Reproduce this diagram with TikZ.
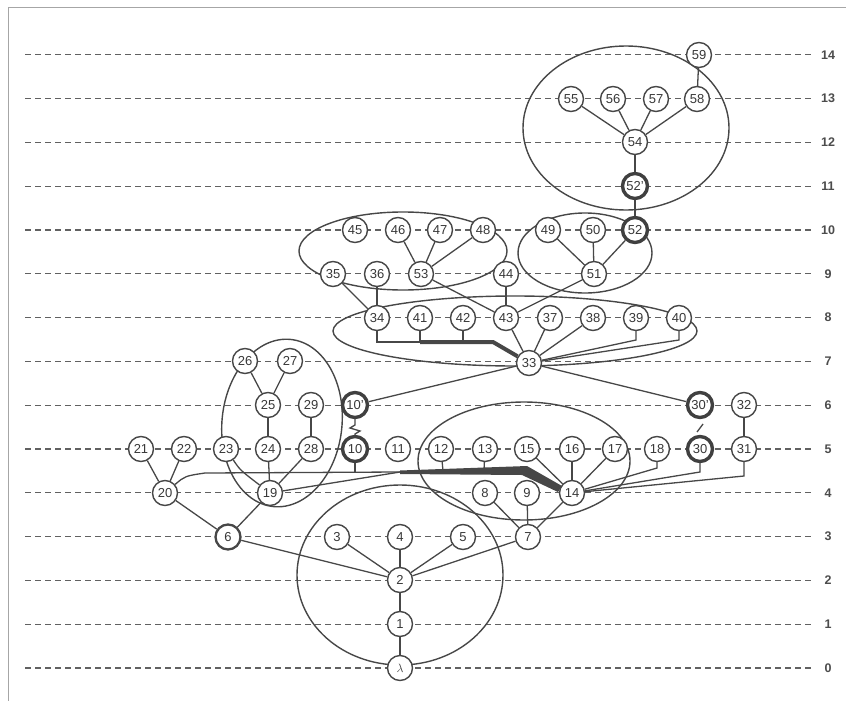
\documentclass[tikz,border=0pt]{standalone}
\usepackage{fontspec}
\setmainfont{Liberation Sans}
\begin{document}
\begin{tikzpicture}[x=1pt,y=-1pt,
  nd/.style={circle,draw=black!72,fill=white,line width=1.4pt,minimum size=25pt,inner sep=0pt,
     text=black!78,font=\fontsize{13}{14}\selectfont},
  dk/.style={nd,line width=3.4pt,draw=black!75},
  md/.style={nd,line width=2.3pt},
  edge/.style={draw=black!72,line width=1.3pt},
  grp/.style={draw=black!72,line width=1.4pt},
  lvl/.style={draw=black!62,line width=1.3pt,dash pattern=on 6pt off 4pt},
  lab/.style={text=black!70,font=\bfseries\fontsize{12.5}{13}\selectfont}]
\useasboundingbox (0,0) rectangle (846,701);
\draw[black!35,line width=1pt] (846,8) -- (8,8) -- (8,701);
% level lines
\foreach \k in {0,...,14}{
  \draw[lvl] (25,{668-43.8*\k}) -- (812,{668-43.8*\k});
  \node[lab] (L\k) at (828,{668-43.8*\k}) {\k};
}
% groups
\draw[grp] (626,128) ellipse [x radius=103, y radius=82];
\draw[grp] (403,251) ellipse [x radius=104, y radius=39];
\draw[grp] (585,253) ellipse [x radius=67, y radius=40];
\draw[grp] (515,331) ellipse [x radius=182, y radius=35];
\draw[grp,rotate around={-6:(282,423)}] (282,423) ellipse [x radius=60, y radius=84];
\draw[grp] (524,461) ellipse [x radius=106, y radius=59];
\draw[grp] (400,575) ellipse [x radius=103, y radius=90];
% nodes
\node[nd] (n59) at (699,55) {59};
\node[nd] (n55) at (571,99) {55};
\node[nd] (n56) at (613,99) {56};
\node[nd] (n57) at (656,99) {57};
\node[nd] (n58) at (697,99) {58};
\node[nd] (n54) at (635,142) {54};
\node[dk] (n52a) at (635,186) {52'};
\node[nd] (n45) at (355,230) {45};
\node[nd] (n46) at (398,230) {46};
\node[nd] (n47) at (440,230) {47};
\node[nd] (n48) at (483,230) {48};
\node[nd] (n49) at (548,230) {49};
\node[nd] (n50) at (593,230) {50};
\node[dk] (n52) at (635,230) {52};
\node[nd] (n35) at (333,274) {35};
\node[nd] (n36) at (377,274) {36};
\node[nd] (n53) at (421,274) {53};
\node[nd] (n44) at (506,274) {44};
\node[nd] (n51) at (594,274) {51};
\node[nd] (n34) at (377,318) {34};
\node[nd] (n41) at (420,318) {41};
\node[nd] (n42) at (463,318) {42};
\node[nd] (n43) at (506,318) {43};
\node[nd] (n37) at (550,318) {37};
\node[nd] (n38) at (593,318) {38};
\node[nd] (n39) at (636,318) {39};
\node[nd] (n40) at (679,318) {40};
\node[nd] (n26) at (245,361) {26};
\node[nd] (n27) at (290,361) {27};
\node[nd] (n33) at (529,363) {33};
\node[nd] (n25) at (268,405) {25};
\node[nd] (n29) at (311,405) {29};
\node[dk] (n10p) at (355,405) {10'};
\node[dk] (n30p) at (700,405) {30'};
\node[nd] (n32) at (744,405) {32};
\node[nd] (n21) at (141,449) {21};
\node[nd] (n22) at (184,449) {22};
\node[nd] (n23) at (226,449) {23};
\node[nd] (n24) at (268,449) {24};
\node[nd] (n28) at (311,449) {28};
\node[dk] (n10) at (355,449) {10};
\node[nd] (n11) at (398,449) {11};
\node[nd] (n12) at (441,449) {12};
\node[nd] (n13) at (485,449) {13};
\node[nd] (n15) at (527,449) {15};
\node[nd] (n16) at (572,449) {16};
\node[nd] (n17) at (615,449) {17};
\node[nd] (n18) at (657,449) {18};
\node[dk] (n30) at (700,449) {30};
\node[nd] (n31) at (744,449) {31};
\node[nd] (n20) at (165,493) {20};
\node[nd] (n19) at (270,493) {19};
\node[nd] (n8) at (485,493) {8};
\node[nd] (n9) at (527,493) {9};
\node[nd] (n14) at (572,493) {14};
\node[md] (n6) at (228,537) {6};
\node[nd] (n3) at (337,537) {3};
\node[nd] (n4) at (400,537) {4};
\node[nd] (n5) at (463,537) {5};
\node[nd] (n7) at (528,537) {7};
\node[nd] (n2) at (400,580) {2};
\node[nd] (n1) at (400,624) {1};
\node[nd] (nA) at (400,668) {$\lambda$};
% bundle helper coordinates
\coordinate (b34) at (377,342);
\coordinate (b41) at (420,342);
\coordinate (b42) at (463,342);
\coordinate (b39) at (636,340);
\coordinate (b40) at (679,340);
\coordinate (b20) at (205,473);
\coordinate (b10) at (355,473);
\coordinate (b12) at (443,471);
\coordinate (b13) at (484,470);
\coordinate (t1) at (400,472);
\coordinate (b18) at (657,468);
\coordinate (b30) at (700,472);
\coordinate (b31) at (744,476);
% edges
\draw[edge] (n59) -- (n58);
\foreach \a in {n55,n56,n57,n58} \draw[edge] (\a) -- (n54);
\draw[edge] (n54) -- (n52a);
\draw[edge] (n52a) -- (n52);
\foreach \a in {n49,n50,n52} \draw[edge] (\a) -- (n51);
\foreach \a in {n46,n47,n48} \draw[edge] (\a) -- (n53);
\draw[edge] (n35) -- (n34);
\draw[edge] (n36) -- (n34);
\draw[edge] (n53) -- (n43);
\draw[edge] (n44) -- (n43);
\draw[edge] (n51) -- (n43);
\draw[edge] (n34) -- (b34) -- (b41);
\draw[edge] (n41) -- (b41);
\draw[edge] (n42) -- (b42);
\draw[draw=black!72,line width=4pt,line join=round] (b41) -- (493,342) -- (n33);
\draw[edge] (n43) -- (n33);
\draw[edge] (n37) -- (n33);
\draw[edge] (n38) -- (n33);
\draw[edge] (n39) -- (b39) -- (n33);
\draw[edge] (n40) -- (b40) -- (n33);
\draw[edge] (n33) -- (n10p);
\draw[edge] (n33) -- (n30p);
\draw[edge] (n26) -- (n25);
\draw[edge] (n27) -- (n25);
\draw[edge] (n25) -- (n24);
\draw[edge] (n29) -- (n28);
\draw[edge] (n24) -- (n19);
\draw[edge] (n28) -- (n19);
\draw[edge] (n23) .. controls (240,470) .. (n19);
\draw[edge] (n21) -- (n20);
\draw[edge] (n22) -- (n20);
\draw[edge] (n20) -- (n6);
\draw[edge] (n19) -- (n6);
\draw[edge] (n6) -- (n2);
\foreach \a in {n3,n4,n5,n7} \draw[edge] (\a) -- (n2);
\draw[edge] (n2) -- (n1);
\draw[edge] (n1) -- (nA);
\foreach \a in {n8,n9,n14} \draw[edge] (\a) -- (n7);
\foreach \a in {n15,n16,n17} \draw[edge] (\a) -- (n14);
\draw[edge] (n32) -- (n31);
% zigzags
\draw[edge] (n10p) -- (355,425) -- (350,428) -- (360,431) -- (355,434) -- (n10);
\draw[edge] (697,432) -- (703,424);
% lower bundle to 14
\draw[edge] (n20) .. controls (185,476) .. (b20) -- (t1);
\draw[edge] (n10) -- (b10);
\draw[edge] (n12) -- (b12);
\draw[edge] (n13) -- (b13);
\draw[edge] (n19) -- (t1);
\fill[black!72] (400,470.5) -- (527,466) -- (562,486) -- (558,492) -- (522,475) -- (400,474) -- cycle;
\draw[edge] (n18) -- (b18) -- (n14);
\draw[edge] (n30) -- (b30) -- (n14);
\draw[edge] (n31) -- (b31) -- (n14);
\end{tikzpicture}
\end{document}
